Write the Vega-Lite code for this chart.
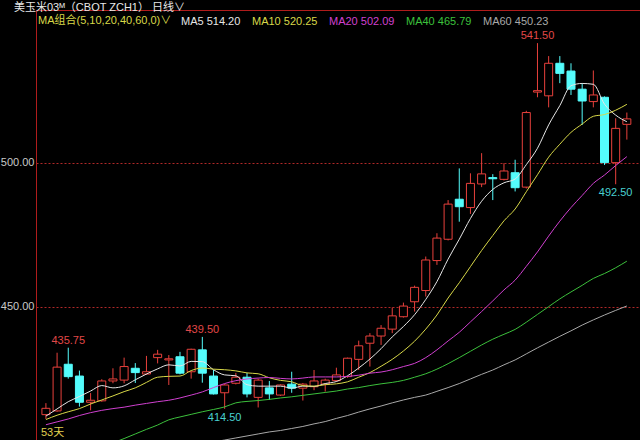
{
  "$schema": "https://vega.github.io/schema/vega-lite/v6.json",
  "width": 604,
  "height": 430,
  "autosize": {"type": "none"},
  "padding": {"left": 36, "top": 10, "right": 0, "bottom": 0},
  "background": "#000000",
  "config": {"view": {"stroke": null}, "font": "Liberation Sans, Noto Sans CJK SC"},
  "title": {"text": "美玉米03ᴹ（CBOT ZCH1） 日线∨", "anchor": "start", "frame": "group", "dx": -22, "dy": 15, "offset": 1, "baseline": "bottom", "fontSize": 11, "fontWeight": "normal", "color": "#e8e8e8", "font": "Liberation Sans, Noto Sans CJK SC"},
  "datasets": {
    "k": [
      {"d":1,"o":412.5,"h":416.5,"l":411.0,"c":414.7,"ma5":412.0,"ma10":410.8,"ma20":409.0,"ma40":null,"ma60":null},
      {"d":2,"o":413.8,"h":434.0,"l":413.5,"c":429.0,"ma5":414.5,"ma10":412.3,"ma20":410.0,"ma40":null,"ma60":null},
      {"d":3,"o":430.0,"h":435.75,"l":425.0,"c":425.7,"ma5":417.0,"ma10":413.5,"ma20":411.0,"ma40":null,"ma60":null},
      {"d":4,"o":425.9,"h":427.8,"l":415.3,"c":416.8,"ma5":418.8,"ma10":414.6,"ma20":412.2,"ma40":null,"ma60":null},
      {"d":5,"o":416.8,"h":420.0,"l":414.0,"c":417.5,"ma5":420.7,"ma10":416.2,"ma20":413.2,"ma40":null,"ma60":null},
      {"d":6,"o":417.3,"h":424.8,"l":417.0,"c":424.2,"ma5":422.6,"ma10":417.6,"ma20":414.0,"ma40":401.3,"ma60":null},
      {"d":7,"o":424.2,"h":428.6,"l":423.4,"c":424.9,"ma5":421.8,"ma10":419.0,"ma20":414.6,"ma40":402.7,"ma60":null},
      {"d":8,"o":424.5,"h":432.3,"l":423.4,"c":429.2,"ma5":422.5,"ma10":420.5,"ma20":415.1,"ma40":404.2,"ma60":null},
      {"d":9,"o":428.6,"h":430.4,"l":423.5,"c":427.1,"ma5":424.6,"ma10":421.8,"ma20":415.8,"ma40":405.8,"ma60":null},
      {"d":10,"o":426.6,"h":432.9,"l":426.3,"c":427.4,"ma5":426.6,"ma10":423.7,"ma20":416.4,"ma40":407.4,"ma60":null},
      {"d":11,"o":432.3,"h":435.0,"l":430.3,"c":433.5,"ma5":428.4,"ma10":425.5,"ma20":417.0,"ma40":408.9,"ma60":null},
      {"d":12,"o":431.5,"h":433.2,"l":422.8,"c":431.9,"ma5":429.8,"ma10":425.8,"ma20":417.5,"ma40":410.7,"ma60":null},
      {"d":13,"o":432.6,"h":434.3,"l":426.5,"c":426.9,"ma5":429.4,"ma10":425.9,"ma20":418.3,"ma40":411.7,"ma60":null},
      {"d":14,"o":427.4,"h":435.4,"l":425.0,"c":435.2,"ma5":431.0,"ma10":427.8,"ma20":419.3,"ma40":412.6,"ma60":null},
      {"d":15,"o":435.0,"h":439.5,"l":423.6,"c":426.9,"ma5":430.9,"ma10":428.7,"ma20":420.4,"ma40":413.5,"ma60":null},
      {"d":16,"o":425.9,"h":428.0,"l":419.5,"c":419.7,"ma5":428.1,"ma10":428.3,"ma20":421.9,"ma40":414.3,"ma60":403.0},
      {"d":17,"o":420.1,"h":423.2,"l":414.5,"c":422.8,"ma5":426.3,"ma10":428.1,"ma20":423.3,"ma40":415.2,"ma60":403.7},
      {"d":18,"o":423.4,"h":427.0,"l":423.0,"c":425.5,"ma5":426.0,"ma10":427.7,"ma20":424.3,"ma40":416.6,"ma60":404.4},
      {"d":19,"o":425.5,"h":427.0,"l":418.5,"c":419.7,"ma5":422.9,"ma10":427.0,"ma20":424.9,"ma40":417.1,"ma60":405.1},
      {"d":20,"o":418.5,"h":425.0,"l":415.0,"c":424.5,"ma5":422.4,"ma10":426.7,"ma20":425.2,"ma40":417.4,"ma60":405.8},
      {"d":21,"o":421.8,"h":424.2,"l":417.6,"c":419.7,"ma5":422.4,"ma10":425.3,"ma20":425.4,"ma40":417.8,"ma60":406.5},
      {"d":22,"o":419.3,"h":423.0,"l":419.0,"c":422.8,"ma5":422.4,"ma10":424.4,"ma20":425.1,"ma40":418.3,"ma60":407.0},
      {"d":23,"o":423.1,"h":427.4,"l":420.1,"c":421.7,"ma5":421.7,"ma10":423.9,"ma20":424.9,"ma40":418.7,"ma60":407.7},
      {"d":24,"o":421.7,"h":423.5,"l":417.4,"c":423.1,"ma5":422.4,"ma10":422.6,"ma20":425.2,"ma40":419.2,"ma60":408.4},
      {"d":25,"o":422.2,"h":428.0,"l":421.0,"c":424.2,"ma5":422.3,"ma10":422.4,"ma20":425.6,"ma40":419.7,"ma60":409.3},
      {"d":26,"o":423.1,"h":425.0,"l":420.5,"c":424.5,"ma5":423.3,"ma10":422.9,"ma20":425.6,"ma40":420.2,"ma60":410.1},
      {"d":27,"o":424.3,"h":428.8,"l":424.0,"c":426.3,"ma5":424.0,"ma10":423.2,"ma20":425.6,"ma40":420.7,"ma60":411.2},
      {"d":28,"o":425.7,"h":432.3,"l":425.3,"c":432.1,"ma5":426.0,"ma10":423.9,"ma20":425.8,"ma40":421.4,"ma60":412.2},
      {"d":29,"o":431.7,"h":438.2,"l":428.0,"c":436.4,"ma5":428.7,"ma10":425.5,"ma20":426.2,"ma40":421.9,"ma60":413.4},
      {"d":30,"o":437.3,"h":440.8,"l":429.2,"c":439.8,"ma5":431.8,"ma10":427.1,"ma20":426.9,"ma40":422.6,"ma60":414.5},
      {"d":31,"o":439.8,"h":443.6,"l":436.7,"c":442.5,"ma5":435.4,"ma10":429.3,"ma20":427.3,"ma40":423.2,"ma60":415.5},
      {"d":32,"o":442.2,"h":449.7,"l":440.8,"c":446.8,"ma5":439.5,"ma10":431.7,"ma20":428.1,"ma40":423.7,"ma60":416.6},
      {"d":33,"o":446.5,"h":451.4,"l":446.2,"c":450.2,"ma5":443.1,"ma10":434.6,"ma20":429.2,"ma40":424.4,"ma60":417.6},
      {"d":34,"o":451.7,"h":457.3,"l":448.3,"c":456.7,"ma5":447.2,"ma10":438.0,"ma20":430.3,"ma40":425.5,"ma60":418.5},
      {"d":35,"o":455.6,"h":467.4,"l":453.5,"c":466.2,"ma5":452.5,"ma10":442.2,"ma20":432.3,"ma40":426.7,"ma60":419.3},
      {"d":36,"o":466.0,"h":475.5,"l":464.5,"c":473.8,"ma5":458.7,"ma10":447.1,"ma20":435.0,"ma40":428.3,"ma60":420.6},
      {"d":37,"o":473.4,"h":487.0,"l":473.0,"c":485.6,"ma5":466.5,"ma10":453.0,"ma20":438.1,"ma40":430.2,"ma60":421.9},
      {"d":38,"o":487.3,"h":498.0,"l":479.5,"c":484.7,"ma5":473.4,"ma10":458.3,"ma20":441.1,"ma40":432.3,"ma60":423.3},
      {"d":39,"o":484.4,"h":496.3,"l":482.2,"c":492.8,"ma5":480.6,"ma10":463.9,"ma20":444.7,"ma40":434.5,"ma60":424.9},
      {"d":40,"o":492.6,"h":503.3,"l":491.5,"c":496.1,"ma5":486.6,"ma10":469.5,"ma20":448.3,"ma40":436.7,"ma60":426.5},
      {"d":41,"o":494.8,"h":496.0,"l":487.0,"c":494.4,"ma5":490.7,"ma10":474.7,"ma20":452.0,"ma40":438.7,"ma60":428.0},
      {"d":42,"o":494.2,"h":499.8,"l":493.8,"c":497.1,"ma5":493.0,"ma10":479.8,"ma20":455.8,"ma40":440.4,"ma60":429.8},
      {"d":43,"o":496.5,"h":501.0,"l":490.0,"c":491.3,"ma5":494.3,"ma10":483.9,"ma20":459.2,"ma40":442.1,"ma60":431.5},
      {"d":44,"o":491.5,"h":518.0,"l":491.0,"c":517.4,"ma5":499.3,"ma10":489.9,"ma20":464.0,"ma40":444.6,"ma60":433.6},
      {"d":45,"o":524.5,"h":541.5,"l":522.7,"c":525.0,"ma5":505.0,"ma10":495.8,"ma20":469.0,"ma40":447.3,"ma60":435.7},
      {"d":46,"o":523.2,"h":537.0,"l":519.2,"c":534.5,"ma5":513.1,"ma10":501.9,"ma20":474.5,"ma40":450.0,"ma60":437.7},
      {"d":47,"o":534.5,"h":537.0,"l":527.6,"c":531.0,"ma5":519.8,"ma10":506.4,"ma20":479.7,"ma40":452.7,"ma60":439.7},
      {"d":48,"o":531.8,"h":534.5,"l":523.5,"c":525.5,"ma5":526.7,"ma10":510.5,"ma20":484.4,"ma40":455.1,"ma60":441.6},
      {"d":49,"o":525.5,"h":527.6,"l":513.1,"c":521.4,"ma5":527.5,"ma10":513.4,"ma20":488.6,"ma40":457.4,"ma60":443.6},
      {"d":50,"o":521.2,"h":532.0,"l":519.2,"c":523.5,"ma5":527.2,"ma10":516.1,"ma20":492.8,"ma40":459.8,"ma60":445.4},
      {"d":51,"o":522.7,"h":523.0,"l":499.2,"c":500.0,"ma5":520.3,"ma10":516.7,"ma20":495.7,"ma40":461.5,"ma60":447.1},
      {"d":52,"o":500.0,"h":515.4,"l":492.5,"c":511.9,"ma5":516.5,"ma10":518.2,"ma20":499.0,"ma40":463.5,"ma60":448.7},
      {"d":53,"o":513.3,"h":517.4,"l":508.0,"c":515.2,"ma5":514.2,"ma10":520.25,"ma20":502.09,"ma40":465.79,"ma60":450.23}
    ],
    "notes": [
      {"d":3,"p":435.75,"t":"435.75","k":"hi"},
      {"d":15,"p":439.5,"t":"439.50","k":"hi"},
      {"d":17,"p":414.5,"t":"414.50","k":"lo"},
      {"d":45,"p":541.5,"t":"541.50","k":"hi"},
      {"d":52,"p":492.5,"t":"492.50","k":"lo"}
    ],
    "span": [{"d":0.56,"p":403.7,"t":"53天"}]
  },
  "layer": [
    {
      "data": {"name": "k"},
      "mark": {"type": "rule", "strokeWidth": 1},
      "encoding": {
        "x": {"field": "d", "type": "quantitative", "title": null, "scale": {"domain": [0.56, 53.73], "nice": false, "zero": false}, "axis": {"orient": "top", "domain": true, "domainColor": "#b01c1c", "domainWidth": 1, "labels": false, "ticks": false, "grid": false, "title": null}},
        "y": {"field": "l", "type": "quantitative", "title": null, "scale": {"domain": [403.7, 553.0], "nice": false, "zero": false}, "axis": {"orient": "left", "values": [450, 500], "format": ".2f", "domainColor": "#b01c1c", "domainWidth": 1, "ticks": false, "labelColor": "#c8c8c8", "labelFontSize": 11, "labelPadding": 2, "labelFont": "Liberation Sans", "grid": true, "gridColor": "#b02828", "gridOpacity": 1, "gridDash": [2, 2], "gridWidth": 1, "title": null}},
        "y2": {"field": "h"},
        "color": {"condition": {"test": "datum.c >= datum.o", "value": "#e8403c"}, "value": "#54fcfc"}
      }
    },
    {
      "data": {"name": "k"},
      "mark": {"type": "bar", "size": 8, "strokeWidth": 1},
      "encoding": {
        "x": {"field": "d", "type": "quantitative", "title": null},
        "y": {"field": "o", "type": "quantitative", "title": null},
        "y2": {"field": "c"},
        "fill": {"condition": {"test": "datum.c >= datum.o", "value": "#000000"}, "value": "#54fcfc"},
        "stroke": {"condition": {"test": "datum.c >= datum.o", "value": "#e8403c"}, "value": "#54fcfc"}
      }
    },
    {
      "data": {"name": "k"},
      "transform": [
        {"fold": ["ma5", "ma10", "ma20", "ma40", "ma60"], "as": ["ma", "v"]},
        {"filter": "datum.v != null"}
      ],
      "mark": {"type": "line", "strokeWidth": 1, "clip": true, "interpolate": "monotone"},
      "encoding": {
        "x": {"field": "d", "type": "quantitative", "title": null},
        "y": {"field": "v", "type": "quantitative", "title": null},
        "color": {
          "field": "ma", "type": "nominal",
          "scale": {"domain": ["ma5", "ma10", "ma20", "ma40", "ma60"], "range": ["#e6e6e6", "#d8d848", "#d040d0", "#3cc03c", "#a8a8a8"]},
          "legend": {
            "orient": "none", "legendX": 2, "legendY": 6, "direction": "horizontal",
            "title": "MA组合(5,10,20,40,60,0)∨", "titleOrient": "left", "titleColor": "#d8d848", "titleFontSize": 11, "titleFontWeight": "normal", "titleFont": "Liberation Sans, Noto Sans CJK SC", "titlePadding": -2,
            "labelFontSize": 11, "labelFont": "Liberation Sans", "labelOffset": 0, "labelLimit": 200, "columnPadding": -9,
            "symbolOpacity": 0, "symbolSize": 0, "symbolStrokeWidth": 0,
            "labelExpr": "datum.label == 'ma5' ? 'MA5 514.20' : datum.label == 'ma10' ? 'MA10 520.25' : datum.label == 'ma20' ? 'MA20 502.09' : datum.label == 'ma40' ? 'MA40 465.79' : 'MA60 450.23'",
            "encode": {"labels": {"update": {"fill": {"signal": "scale('color', datum.value)"}}}}
          }
        }
      }
    },
    {
      "data": {"name": "notes"},
      "transform": [{"filter": "datum.k == 'hi'"}],
      "mark": {"type": "text", "baseline": "bottom", "dy": -2, "fontSize": 11, "font": "Liberation Sans", "color": "#e04848"},
      "encoding": {
        "x": {"field": "d", "type": "quantitative", "title": null},
        "y": {"field": "p", "type": "quantitative", "title": null},
        "text": {"field": "t"}
      }
    },
    {
      "data": {"name": "notes"},
      "transform": [{"filter": "datum.k == 'lo'"}],
      "mark": {"type": "text", "baseline": "top", "dy": 3, "fontSize": 11, "font": "Liberation Sans", "color": "#48d0d0"},
      "encoding": {
        "x": {"field": "d", "type": "quantitative", "title": null},
        "y": {"field": "p", "type": "quantitative", "title": null},
        "text": {"field": "t"}
      }
    },
    {
      "data": {"name": "span"},
      "mark": {"type": "text", "align": "left", "baseline": "bottom", "dx": 0, "dy": -2, "fontSize": 11, "font": "Liberation Sans, Noto Sans CJK SC", "color": "#e0d050"},
      "encoding": {
        "x": {"field": "d", "type": "quantitative", "title": null},
        "y": {"field": "p", "type": "quantitative", "title": null},
        "text": {"field": "t"}
      }
    }
  ]
}
